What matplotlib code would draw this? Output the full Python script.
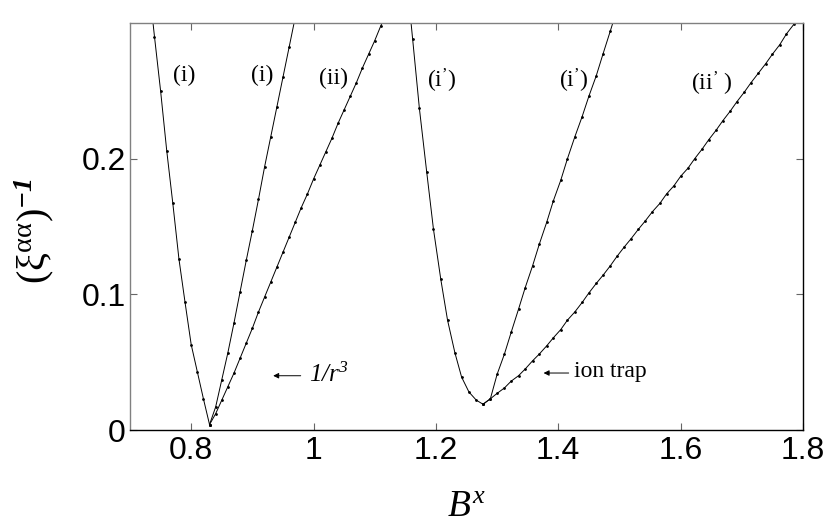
"""
plot.py

Inverse correlation length (xi^aa)^-1 vs transverse field B^x for the
1/r^3 couplings (left group) and the ion-trap couplings (right group).
Saved as out.png (headless Agg backend).
"""

import matplotlib
matplotlib.use("Agg")  # no display
import matplotlib.pyplot as plt

# ── data ────────────────────────────────────────────────────────────────────
# 1/r^3 branch: (i) left, (i) right, (ii)
bx_a = [0.73, 0.74, 0.75, 0.76, 0.77, 0.78, 0.79, 0.80, 0.81, 0.82, 0.83]
xi_a = [0.332, 0.290, 0.250, 0.206, 0.167, 0.126, 0.094, 0.063, 0.043, 0.023, 0.004]

bx_b = [0.83, 0.84, 0.85, 0.86, 0.87, 0.88, 0.89, 0.90, 0.91, 0.92, 0.93,
        0.94, 0.95, 0.96, 0.97]
xi_b = [0.004, 0.017, 0.037, 0.057, 0.079, 0.102, 0.125, 0.147, 0.170, 0.194,
        0.216, 0.238, 0.260, 0.282, 0.304]

bx_c = [0.83, 0.84, 0.85, 0.86, 0.87, 0.88, 0.89, 0.90, 0.91, 0.92, 0.93,
        0.94, 0.95, 0.96, 0.97, 0.98, 0.99, 1.00, 1.01, 1.02, 1.03, 1.04,
        1.05, 1.06, 1.07, 1.08, 1.09, 1.10, 1.11, 1.12]
xi_c = [0.004, 0.012, 0.022, 0.032, 0.042, 0.053, 0.064, 0.075, 0.087, 0.098,
        0.109, 0.120, 0.131, 0.142, 0.153, 0.164, 0.174, 0.185, 0.195, 0.205,
        0.215, 0.226, 0.236, 0.246, 0.256, 0.267, 0.277, 0.287, 0.298, 0.308]

# ion-trap branch: (i') left, (i') right, (ii')
bx_d = [1.150, 1.162, 1.173, 1.185, 1.196, 1.208, 1.219, 1.231, 1.242,
        1.254, 1.266, 1.277]
xi_d = [0.343, 0.288, 0.237, 0.190, 0.148, 0.111, 0.081, 0.057, 0.039,
        0.028, 0.022, 0.019]

bx_e = [1.277, 1.289, 1.300, 1.312, 1.323, 1.335, 1.346, 1.358, 1.369,
        1.381, 1.392, 1.404, 1.415, 1.427, 1.439, 1.450, 1.462, 1.473,
        1.485, 1.496]
xi_e = [0.019, 0.023, 0.041, 0.056, 0.072, 0.089, 0.105, 0.121, 0.137,
        0.153, 0.169, 0.184, 0.200, 0.216, 0.231, 0.246, 0.261, 0.277,
        0.294, 0.310]

bx_f = [1.277, 1.289, 1.300, 1.312, 1.323, 1.335, 1.346, 1.358, 1.369,
        1.381, 1.392, 1.404, 1.415, 1.427, 1.439, 1.450, 1.462, 1.473,
        1.485, 1.496, 1.508, 1.519, 1.531, 1.542, 1.554, 1.566, 1.577,
        1.589, 1.600, 1.612, 1.623, 1.635, 1.646, 1.658, 1.669, 1.681,
        1.692, 1.704, 1.715, 1.727, 1.739, 1.750, 1.762, 1.773, 1.785, 1.796]
xi_f = [0.019, 0.023, 0.027, 0.031, 0.036, 0.040, 0.045, 0.051, 0.056,
        0.062, 0.068, 0.074, 0.081, 0.087, 0.094, 0.101, 0.108, 0.114,
        0.121, 0.128, 0.135, 0.141, 0.148, 0.154, 0.161, 0.167, 0.174,
        0.180, 0.187, 0.193, 0.200, 0.207, 0.214, 0.221, 0.228, 0.235,
        0.242, 0.249, 0.256, 0.263, 0.270, 0.277, 0.284, 0.292, 0.299, 0.306]

x_ticks = [0.8, 1.0, 1.2, 1.4, 1.6, 1.8]
x_tick_labels = ["0.8", "1", "1.2", "1.4", "1.6", "1.8"]
y_ticks = [0.0, 0.1, 0.2]
y_tick_labels = ["0", "0.1", "0.2"]

# curve labels: (text, x, y)
curve_labels = [
    ("(i)", 0.789, 0.261),
    ("(i)", 0.916, 0.261),
    ("(ii)", 1.033, 0.259),
    (r"$\mathrm{(i}^{\mathrm{’}}\mathrm{)}$", 1.209, 0.257),
    (r"$\mathrm{(i}^{\mathrm{’}}\mathrm{)}$", 1.425, 0.257),
    (r"$\mathrm{(ii}^{\mathrm{’}}\mathrm{\ )}$", 1.651, 0.255),
]

# ── style ───────────────────────────────────────────────────────────────────
# custom mathtext: rm = Times-like, sf = italic (keeps digits italic too),
# bf = bold italic for the exponent of the y label
plt.rcParams["mathtext.fontset"] = "custom"
plt.rcParams["mathtext.rm"] = "Liberation Serif"
plt.rcParams["mathtext.it"] = "Liberation Serif:italic"
plt.rcParams["mathtext.sf"] = "Liberation Serif:italic"
plt.rcParams["mathtext.bf"] = "Liberation Serif:italic:bold"
SERIF = "Liberation Serif"
SANS = "Liberation Sans"

fig = plt.figure(figsize=(8.3, 5.27), dpi=100)
ax = fig.add_axes([130 / 830, 97 / 527, 673 / 830, 407 / 527])

for bx, xi in [(bx_a, xi_a), (bx_b, xi_b), (bx_c, xi_c),
               (bx_d, xi_d), (bx_e, xi_e), (bx_f, xi_f)]:
    ax.plot(bx, xi, "-", color="k", linewidth=0.7, marker=".",
            markersize=2.0)

ax.set_xlim(0.7, 1.8)
ax.set_ylim(0.0, 0.3)

ax.set_xticks(x_ticks)
ax.set_xticklabels(x_tick_labels, fontfamily=SANS, fontsize=23)
ax.set_yticks(y_ticks)
ax.set_yticklabels(y_tick_labels, fontfamily=SANS, fontsize=23)
ax.tick_params(direction="in", length=5, width=0.8, color="0.4",
               top=True, right=True)
ax.tick_params(axis="x", pad=4)
ax.tick_params(axis="y", pad=3)

# MATLAB-style export: grey left/top edges, black bottom/right
for side, col in [("left", "0.5"), ("top", "0.5"),
                  ("bottom", "k"), ("right", "k")]:
    ax.spines[side].set_color(col)
    ax.spines[side].set_linewidth(1.0)

for txt, x, y in curve_labels:
    ax.text(x, y, txt, ha="center", va="center", fontsize=17, family=SERIF)

arrow = dict(arrowstyle="-|>", color="k", lw=0.7, mutation_scale=8,
             shrinkA=0, shrinkB=0)
ax.annotate("", xy=(0.934, 0.040), xytext=(0.979, 0.040), arrowprops=arrow)
ax.text(0.993, 0.041, r"$\mathsf{1/r}^{\mathsf{3}}$", ha="left", va="center",
        fontsize=18, family=SERIF)
ax.annotate("", xy=(1.376, 0.042), xytext=(1.417, 0.042), arrowprops=arrow)
ax.text(1.426, 0.043, "ion trap", ha="left", va="center",
        fontsize=17, family=SERIF)

ax.set_xlabel(r"$\mathit{B}^{\mathit{x}}$", fontsize=27, family=SERIF,
              va="center", ha="center")
ax.xaxis.set_label_coords(0.5, -0.19)
ax.set_ylabel(r"$(\mathrm{ξ}^{\mathrm{αα}})^{\mathbf{-1}}$", fontsize=29,
              family=SERIF, va="center", ha="center")
ax.yaxis.set_label_coords(-0.143, 0.49)

fig.savefig("out.png", dpi=100)
plt.close(fig)
